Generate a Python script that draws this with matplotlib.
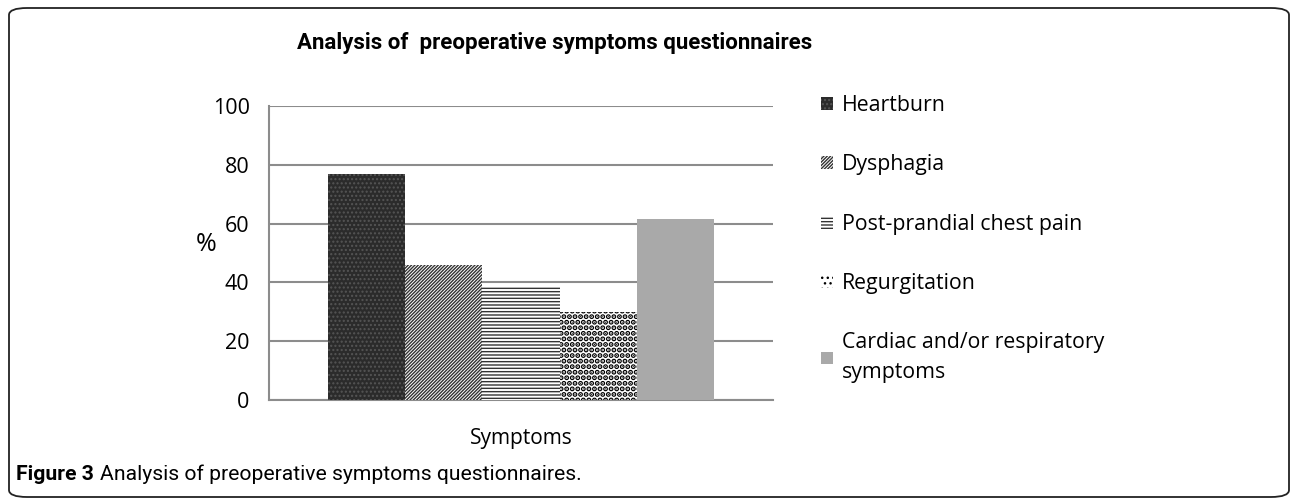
import matplotlib.pyplot as plt
from matplotlib.patches import FancyBboxPatch

plt.rcParams['font.family'] = ['Open Sans', 'DejaVu Sans']
plt.rcParams['hatch.linewidth'] = 1.0

symptoms = ["Heartburn", "Dysphagia", "Post-prandial chest pain",
            "Regurgitation", "Cardiac and/or respiratory\nsymptoms"]
percent = [77, 46, 38.5, 30, 61.5]
yticks = [0, 20, 40, 60, 80, 100]

faces = ["#2b2b2b", "white", "white", "white", "#a9a9a9"]
hatches = ["....", "//////////", "-----", "...", None]
edges = ["#555555", "#333333", "#333333", "black", "#a9a9a9"]
hatch_lw = [1.0, 1.0, 1.0, 2.6, 1.0]

fig = plt.figure(figsize=(12.92, 4.99), dpi=100)
ax = fig.add_axes([269/1292, 1-400/499, 504/1292, 294/499])

w = 0.1534
for i, (lab, v) in enumerate(zip(symptoms, percent)):
    with plt.rc_context({'hatch.linewidth': hatch_lw[i]}):
        ax.bar(0.5 + (i-2)*w, v, width=w, color=faces[i], hatch=hatches[i],
               edgecolor=edges[i], linewidth=0, label=lab, zorder=3)

ax.set_xlim(0, 1)
ax.set_ylim(0, 100)
ax.set_yticks(yticks)
ax.set_xticks([])
ax.yaxis.grid(True, color="#8c8c8c", linewidth=1.5, zorder=0)
for s in ["top", "right"]:
    ax.spines[s].set_visible(False)
for s in ["left", "bottom"]:
    ax.spines[s].set_color("#8c8c8c")
    ax.spines[s].set_linewidth(1.5)
ax.tick_params(axis="y", length=0, labelsize=15.5, pad=14)
ax.set_ylabel("%", fontsize=18, rotation=0)
ax.yaxis.set_label_coords(-0.125, 0.485)
ax.set_xlabel("Symptoms", fontsize=15, labelpad=20)

fig.text(555/1292, 1-43/499, "Analysis of  preoperative symptoms questionnaires",
         ha="center", va="center", fontsize=16, fontweight="bold",
         family=["Roboto", "DejaVu Sans"])

leg = ax.legend(loc="upper left", bbox_to_anchor=(802/1292, 1-76/499),
                bbox_transform=fig.transFigure, frameon=False, fontsize=15.3,
                handlelength=0.55, handleheight=0.55, handletextpad=0.45,
                labelspacing=1.8)
leg.get_texts()[-1].set_linespacing(1.55)

cap1 = fig.text(16/1292, 1-474/499, "Figure 3", fontsize=15.2, fontweight="bold",
                va="center", family=["Roboto", "DejaVu Sans"])
fig.canvas.draw()
bb = cap1.get_window_extent()
fig.text((bb.x1 + 6)/1292, 1-474/499,
         "Analysis of preoperative symptoms questionnaires.",
         fontsize=15.2, va="center", family=["Roboto", "DejaVu Sans"])

box = FancyBboxPatch((9/1292, 1-497/499), 1280/1292, 489/499,
                     boxstyle="round,pad=0,rounding_size=0.014",
                     transform=fig.transFigure, fill=False,
                     edgecolor="#222222", linewidth=1.3)
fig.patches.append(box)

fig.savefig("out.png", dpi=100)
